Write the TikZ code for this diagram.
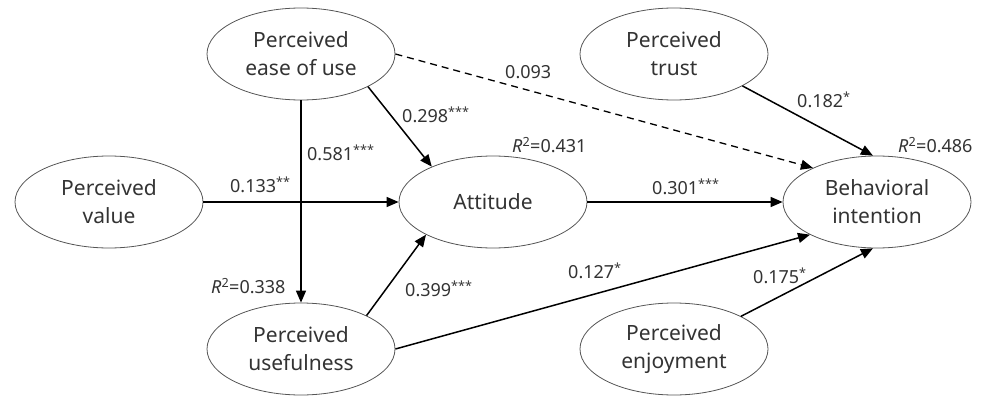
\documentclass[tikz,border=0pt]{standalone}
\usepackage{fontspec}
\setmainfont{Noto Sans}
\usetikzlibrary{shapes.geometric,arrows.meta}
\definecolor{txt}{HTML}{333333}
\definecolor{edge}{HTML}{555555}
\tikzset{
  construct/.style={ellipse, draw=edge, line width=0.8pt, minimum width=188pt, minimum height=92pt, inner sep=0pt, align=center, text=txt, font=\fontsize{21}{28}\selectfont},
  path/.style={line width=1.5pt, -{Triangle[length=12pt,width=10pt]}},
  lbl/.style={anchor=west, inner sep=0pt, text=txt, font=\fontsize{18}{20}\selectfont},
}
\newcommand{\sig}[1]{\textsuperscript{#1}}
\newcommand{\rsq}[1]{\textit{R}\textsuperscript{2}=#1}
\begin{document}
\begin{tikzpicture}[x=1pt,y=-1pt]
\useasboundingbox (0,0) rectangle (988,396);
\node[construct] (peou) at (301,54) {Perceived\\ease of use};
\node[construct] (pv) at (109,202) {Perceived\\value};
\node[construct] (att) at (493,202) {Attitude};
\node[construct] (pt) at (674,54) {Perceived\\trust};
\node[construct] (bi) at (877,202) {Behavioral\\intention};
\node[construct] (pu) at (301,349) {Perceived\\usefulness};
\node[construct] (pe) at (674,349) {Perceived\\enjoyment};

\draw[path] (peou.south) -- (pu.north);
\draw[path] (peou.-26.6) -- (att.150.3);
\draw[path, dashed, dash pattern=on 7pt off 5pt, line width=1.3pt] (peou.east) -- (bi.152.4);
\draw[path] (pv.east) -- (att.west);
\draw[path] (att.east) -- (bi.west);
\draw[path] (pt.-25.5) -- (bi.95);
\draw[path] (pu.27.3) -- (att.-154);
\draw[path] (pu.east) -- (bi.-154.5);
\draw[path] (pe.26.2) -- (bi.-95);

\node[lbl] (l581) at (307,153) {0.581\sig{***}};
\node[lbl] (l298) at (402,115) {0.298\sig{***}};
\node[lbl] (l133) at (230,185) {0.133\sig{**}};
\node[lbl] (l093) at (505,72) {0.093};
\node[lbl] (l182) at (797,100) {0.182\sig{*}};
\node[lbl] (r431) at (512,145) {\rsq{0.431}};
\node[lbl] (r486) at (898,145) {\rsq{0.486}};
\node[lbl] (l301) at (652,187) {0.301\sig{***}};
\node[lbl] (r338) at (211,286) {\rsq{0.338}};
\node[lbl] (l399) at (405,289) {0.399\sig{***}};
\node[lbl] (l127) at (568,271) {0.127\sig{*}};
\node[lbl] (l175) at (753,276) {0.175\sig{*}};
\end{tikzpicture}
\end{document}
